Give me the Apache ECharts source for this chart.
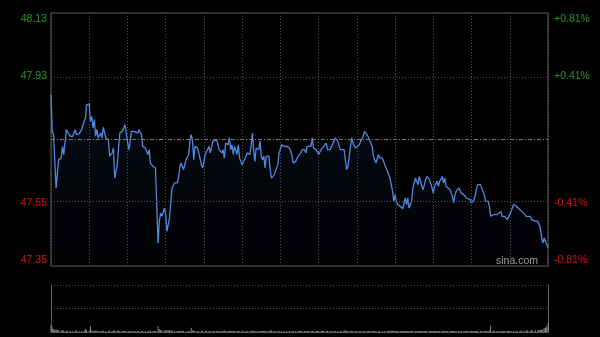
<!DOCTYPE html>
<html>
<head>
<meta charset="utf-8">
<script src="https://cdn.jsdelivr.net/npm/echarts@6/dist/echarts.min.js"></script>
<style>
html,body{margin:0;padding:0;background:#000;}
#c{width:600px;height:337px;}
</style>
</head>
<body>
<div id="c"></div>
<script>
// ---- data (minutes after open, price, volume) ----
const times = [
0,1,2,3,4,5,6,8,9,10,12,13,15,17,19,20,22,24,26,27,
28,30,31,32,33,34,35,36,37,39,40,41,43,45,46,48,49,50,52,53,
54,56,57,58,59,61,62,63,65,66,68,69,71,72,74,76,77,78,80,81,
82,84,85,86,87,89,90,91,92,93,94,95,97,99,100,101,102,103,104,106,
108,109,110,111,112,113,115,116,118,119,121,122,124,125,127,128,
130,131,132,134,135,136,137,139,140,141,142,143,144,146,147,148,150,151,153,154,
156,157,158,159,160,161,163,164,165,166,167,168,169,171,172,173,175,176,178,179,
181,183,185,187,189,190,192,194,195,196,197,199,200,201,202,204,205,206,208,209,
210,212,213,214,216,217,219,220,222,223,225,227,228,230,231,232,233,235,236,237,
239,240,242,243,245,246,248,249,250,252,253,254,255,257,258,
260,262,264,265,266,267,268,269,270,271,272,274,275,276,277,278,279,280,281,282,
283,284,286,287,288,289,290,291,292,293,294,295,297,298,299,300,301,302,303,304,
305,307,308,309,310,311,313,314,315,316,317,318,320,321,322,324,325,326,327,329,
330,331,332,333,334,335,337,338,340,341,342,343,344,345,347,348,350,351,353,354,
355,356,358,359,360,361,363,365,366,368,369,371,373,374,376,377,378,380,382,383,
384,385,386,387,388,389,390
];
const prices = [
47.877,47.765,47.754,47.674,47.592,47.587,47.678,47.683,47.719,47.694,
47.770,47.770,47.750,47.750,47.770,47.755,47.757,47.770,47.796,47.806,
47.847,47.849,47.796,47.811,47.775,47.801,47.750,47.770,47.745,47.760,
47.745,47.777,47.745,47.739,47.689,47.699,47.714,47.622,47.663,47.714,
47.760,47.765,47.770,47.785,47.760,47.709,47.729,47.765,47.765,47.770,
47.760,47.770,47.755,47.719,47.714,47.694,47.709,47.668,47.658,47.663,
47.653,47.423,47.490,47.515,47.506,47.530,47.510,47.459,47.454,47.500,
47.505,47.592,47.607,47.607,47.622,47.653,47.668,47.663,47.648,47.678,
47.694,47.735,47.755,47.739,47.678,47.719,47.714,47.699,47.663,47.653,
47.694,47.689,47.719,47.699,47.735,47.729,
47.739,47.735,47.709,47.699,47.709,47.683,47.729,47.724,47.745,47.709,
47.724,47.694,47.719,47.694,47.724,47.683,47.663,47.668,47.689,47.699,
47.694,47.719,47.760,47.709,47.673,47.714,47.709,47.735,47.689,47.678,
47.689,47.653,47.689,47.689,47.648,47.622,47.631,47.631,47.663,47.699,
47.724,47.719,47.719,47.714,47.694,47.668,47.673,47.689,47.683,47.699,
47.709,47.709,47.699,47.719,47.724,47.719,47.745,47.714,47.709,47.704,
47.694,47.709,47.704,47.719,47.729,47.709,47.709,47.704,47.735,47.745,
47.735,47.709,47.704,47.709,47.678,47.648,47.658,47.719,47.745,47.729,
47.714,47.714,47.724,47.735,47.750,47.765,47.755,47.757,47.739,47.719,
47.689,47.683,47.668,47.694,47.683,
47.683,47.663,47.643,47.638,47.622,47.602,47.582,47.551,47.571,47.551,
47.541,47.536,47.533,47.528,47.546,47.561,47.541,47.561,47.530,47.525,
47.551,47.592,47.622,47.612,47.602,47.627,47.632,47.597,47.587,47.602,
47.617,47.627,47.617,47.612,47.592,47.576,47.597,47.602,47.612,47.597,
47.612,47.627,47.607,47.622,47.597,47.592,47.587,47.582,47.566,47.546,
47.571,47.582,47.592,47.587,47.576,47.571,47.571,47.561,47.561,47.556,
47.546,47.551,47.556,47.571,47.592,47.602,47.602,47.602,47.571,47.551,
47.556,47.551,47.536,47.505,47.510,47.512,47.510,47.515,47.520,47.505,
47.510,47.505,47.495,47.500,47.510,47.510,47.541,47.536,47.530,47.525,
47.520,47.515,47.505,47.500,47.505,47.495,47.495,47.490,47.490,47.495,
47.469,47.439,47.423,47.439,47.444,47.418,47.410
];
const volumes = [
15,10,6,5,6,4,4,3,3,3, 3,2,3,2,2,3,2,2,3,7,
4,3,12,3,2,3,2,2,3,2, 2,3,2,2,3,2,2,4,3,2,
2,2,2,3,2,2,2,2,2,2, 2,2,2,2,2,2,2,3,2,2,
2,13,6,4,3,3,3,4,3,3, 3,4,3,2,2,2,3,2,2,2,
2,2,9,3,3,2,2,2,2,2, 2,2,2,2,2,2,
2,2,2,2,2,3,2,2,2,2, 2,2,2,2,2,2,3,2,2,2,
2,2,3,2,2,2,2,2,2,2, 2,2,2,2,3,3,2,2,2,2,
2,2,2,2,2,2,2,2,2,2, 2,2,2,2,2,2,2,2,2,2,
2,2,2,2,2,2,2,2,2,2, 2,2,2,3,3,2,2,2,2,2,
2,2,2,2,2,2,2,2,2,2, 2,2,2,2,2,
2,2,2,2,3,2,2,3,2,2, 2,2,2,2,2,2,2,2,2,2,
2,3,2,2,2,2,2,2,2,2, 2,2,2,2,2,2,2,2,2,2,
2,2,2,2,2,2,2,2,2,2, 2,2,2,2,2,2,2,2,2,2,
2,2,2,2,2,2,2,2,2,2, 2,2,3,14,3,2,2,2,2,2,
2,2,2,2,2,2,3,2,2,3, 3,3,3,3,3,3,3,4,4,4,
4,5,6,8,9,12,18
];
const prevClose = 47.74;
const priceMin = 47.353, priceMax = 48.127;
const leftTickValues = [48.127, 47.9335, 47.5465, 47.353];
const leftTickLabels = ['48.13', '47.93', '47.55', '47.35'];
const rightTickLabels = ['+0.81%', '+0.41%', '-0.41%', '-0.81%'];
const volMax = 100;

// ---- build ----
const priceData = times.map((t, i) => [t, prices[i]]);
const volData = times.map((t, i) => [t, volumes[i]]);
const pct = v => (v - prevClose) / prevClose * 100;
const rightTickValues = leftTickValues.map(pct);
const tickColors = ['#1f9e1f', '#1f9e1f', '#d41515', '#d41515'];
function nearestIdx(arr, v) {
  let b = 0;
  for (let i = 1; i < arr.length; i++) if (Math.abs(arr[i] - v) < Math.abs(arr[b] - v)) b = i;
  return b;
}
function richFor(c) {
  return {
    t: { color: c[0], padding: [12, 0, 0, 0], fontSize: 10.5, fontFamily: 'Liberation Sans' },
    m1: { color: c[1], fontSize: 10.5, fontFamily: 'Liberation Sans' },
    m2: { color: c[2], fontSize: 10.5, fontFamily: 'Liberation Sans' },
    b: { color: c[3], padding: [0, 0, 12, 0], fontSize: 10.5, fontFamily: 'Liberation Sans' }
  };
}
const keys = ['t', 'm1', 'm2', 'b'];
const gridColor = '#555555';
const frameColor = '#5f5f5f';

const chart = echarts.init(document.getElementById('c'), null, { renderer: 'canvas' });
chart.setOption({
  backgroundColor: '#000',
  animation: false,
  grid: [
    { left: 51, right: 52, top: 13, height: 253, show: true, borderColor: frameColor, borderWidth: 1, backgroundColor: 'transparent' },
    { left: 51, right: 52, top: 285, height: 47 }
  ],
  xAxis: [
    { type: 'value', gridIndex: 0, min: 0, max: 390, interval: 30,
      axisLine: { show: false }, axisTick: { show: false }, axisLabel: { show: false },
      splitLine: { show: true, lineStyle: { color: gridColor, type: [1, 2], width: 1 } } },
    { type: 'value', gridIndex: 1, min: 0, max: 390, interval: 30,
      axisLine: { show: true, onZero: false, lineStyle: { color: frameColor } }, axisTick: { show: false }, axisLabel: { show: false },
      splitLine: { show: false } }
  ],
  yAxis: [
    { type: 'value', gridIndex: 0, min: priceMin, max: priceMax, position: 'left',
      axisLine: { show: false }, axisTick: { show: false }, splitLine: { show: false },
      axisLabel: { show: true, margin: 4, customValues: leftTickValues,
        formatter: v => { const i = nearestIdx(leftTickValues, v); return '{' + keys[i] + '|' + leftTickLabels[i] + '}'; },
        rich: richFor(tickColors) } },
    { type: 'value', gridIndex: 0, min: pct(priceMin), max: pct(priceMax), position: 'right',
      axisLine: { show: false }, axisTick: { show: false }, splitLine: { show: false },
      axisLabel: { show: true, margin: 6, customValues: rightTickValues,
        formatter: v => { const i = nearestIdx(rightTickValues, v); return '{' + keys[i] + '|' + rightTickLabels[i] + '}'; },
        rich: richFor(tickColors) } },
    { type: 'value', gridIndex: 1, min: 0, max: volMax, interval: volMax / 2, position: 'left',
      axisLine: { show: true, lineStyle: { color: frameColor } }, axisTick: { show: false }, axisLabel: { show: false },
      splitLine: { show: true, lineStyle: { color: gridColor, type: [1, 2] } } },
    { type: 'value', gridIndex: 1, min: 0, max: volMax, position: 'right',
      axisLine: { show: true, lineStyle: { color: frameColor } }, axisTick: { show: false }, axisLabel: { show: false },
      splitLine: { show: false } }
  ],
  series: [
    { type: 'line', xAxisIndex: 0, yAxisIndex: 0, data: priceData, showSymbol: false, symbol: 'none',
      lineStyle: { color: '#4f89e0', width: 1.3 },
      areaStyle: { color: new echarts.graphic.LinearGradient(0, 0, 0, 1, [
        { offset: 0, color: 'rgba(50,90,170,0.18)' },
        { offset: 1, color: 'rgba(30,50,100,0.06)' }
      ]) },
      markLine: { silent: true, symbol: 'none', label: { show: false },
        data: [
          { yAxis: leftTickValues[1], lineStyle: { color: gridColor, type: [1, 2], width: 1 } },
          { yAxis: prevClose, lineStyle: { color: '#7a7a7a', type: [4, 2, 1, 2], width: 1 } },
          { yAxis: leftTickValues[2], lineStyle: { color: gridColor, type: [1, 2], width: 1 } }
        ] },
      z: 3 },
    { type: 'bar', xAxisIndex: 1, yAxisIndex: 2, data: volData, barWidth: 1,
      itemStyle: { color: '#8a8a8a' } }
  ],
  graphic: [
    { type: 'text', right: 62, top: 256, style: { text: 'sina.com', fill: '#a0a0a0', fontSize: 10.5, fontFamily: 'Liberation Sans' } }
  ]
});
</script>
</body>
</html>
